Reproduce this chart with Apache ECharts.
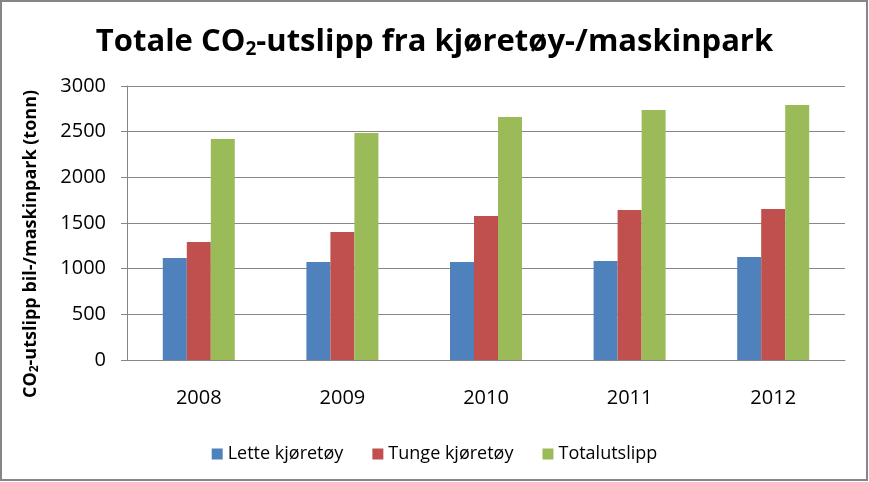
<!DOCTYPE html>
<html><head><meta charset="utf-8">
<script src="https://cdn.jsdelivr.net/npm/echarts@6/dist/echarts.min.js"></script>
<style>
html,body{margin:0;padding:0;background:#fff;}
#c{width:869px;height:482px;}
</style></head><body>
<div id="c"></div>
<script>
const categories = ['2008','2009','2010','2011','2012'];
const lette = [1117, 1073, 1073, 1084, 1128];
const tunge = [1292, 1401, 1577, 1642, 1653];
const total = [2420, 2485, 2661, 2737, 2792];
const yTicks = {min: 0, max: 3000, interval: 500};

const F = '"Open Sans", sans-serif';
const chart = echarts.init(document.getElementById('c'), null, {renderer:'canvas'});
chart.setOption({
  animation:false,
  color:['#4F81BD','#C0504D','#9BBB59'],
  graphic:[{type:'rect',shape:{x:1,y:1,width:866,height:479},
    style:{fill:null,stroke:'#868686',lineWidth:2},silent:true,z:100}],
  title:{
    text:'{t|Totale CO}{s|2}{t|-utslipp fra kjøretøy-/maskinpark}',
    left:'center', top:21,
    textStyle:{rich:{
      t:{fontFamily:F,fontWeight:'bold',fontSize:31,color:'#000'},
      s:{fontFamily:F,fontWeight:'bold',fontSize:19,color:'#000',padding:[14,0,0,0]}
    }}
  },
  legend:{
    top:440, left:'center', itemWidth:11, itemHeight:11, itemGap:29,
    icon:'rect',
    textStyle:{fontFamily:F,fontSize:18,color:'#000'},
    data:['Lette kjøretøy','Tunge kjøretøy','Totalutslipp']
  },
  grid:{left:127, right:24, top:86, bottom:122},
  xAxis:{
    type:'category', data:categories,
    axisLine:{lineStyle:{color:'#868686'}},
    axisTick:{show:false},
    axisLabel:{fontFamily:F,fontSize:20,color:'#000',margin:28}
  },
  yAxis:{
    type:'value', min:yTicks.min, max:yTicks.max, interval:yTicks.interval,
    name:'{t|CO}{s|2}{t|-utslipp bil-/maskinpark (tonn)}',
    nameLocation:'middle', nameGap:86,
    nameTextStyle:{padding:[0,42,0,0],rich:{
      t:{fontFamily:F,fontWeight:'bold',fontSize:18,color:'#000'},
      s:{fontFamily:F,fontWeight:'bold',fontSize:12,color:'#000',padding:[9,0,0,0]}
    }},
    axisLine:{show:true,lineStyle:{color:'#868686'}},
    axisTick:{show:true,length:6,lineStyle:{color:'#868686'}},
    splitLine:{lineStyle:{color:'#868686',width:1}},
    axisLabel:{fontFamily:F,fontSize:20,color:'#000',margin:21,formatter:v=>String(v)}
  },
  series:[
    {name:'Lette kjøretøy',type:'bar',data:lette,barWidth:24,barGap:'0%'},
    {name:'Tunge kjøretøy',type:'bar',data:tunge,barWidth:24,barGap:'0%'},
    {name:'Totalutslipp',type:'bar',data:total,barWidth:24,barGap:'0%'}
  ]
});
</script></body></html>
